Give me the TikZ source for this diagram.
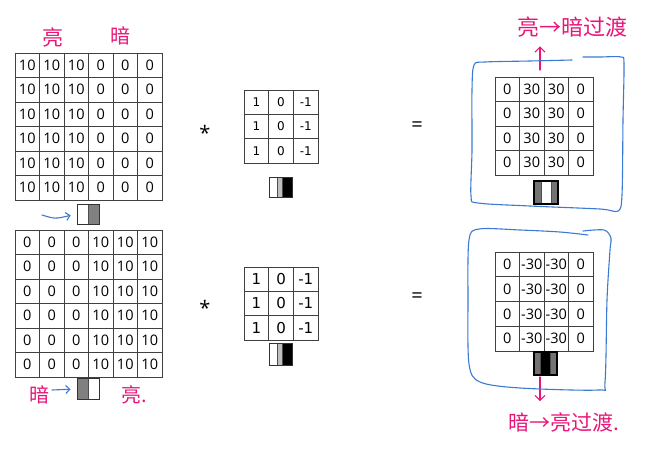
\documentclass[tikz,border=0pt]{standalone}
\usepackage{fontspec}
\setmainfont{Open Sans}
\newfontfamily\kfont{DejaVu Sans}
\newfontfamily\cjk{Noto Sans CJK SC}
\usetikzlibrary{arrows.meta,positioning,calc}
\definecolor{penblue}{RGB}{58,122,210}
\definecolor{penpink}{RGB}{232,22,120}

\begin{document}
\begin{tikzpicture}[x=1pt,y=-1pt,
    cell/.style={draw=black!75, line width=0.8pt, minimum width=24.5pt, minimum height=24.5pt, inner sep=0pt, font=\fontsize{14.5}{14.5}\selectfont},
    kcell/.style={cell, minimum width=24.7pt, minimum height=24.3pt},
    icon/.style={draw=black!80, line width=1pt, inner sep=0pt, fill=white},
    ricon/.style={draw=black, line width=1.6pt, inner sep=0pt, fill=white},
    stripes/.style n args={5}{path picture={
        \path (path picture bounding box.north west) coordinate (pw) (path picture bounding box.south east) coordinate (pe);
        \fill[#1] (pw) rectangle ($(pw|-pe)!#4!(pe)$);
        \fill[#2] ($(pw)!#4!(pw-|pe)$) rectangle ($(pw|-pe)!#5!(pe)$);
        \fill[#3] ($(pw)!#5!(pw-|pe)$) rectangle (pe);
        \draw[black!70, line width=0.8pt] ($(pw)!#4!(pw-|pe)$) -- ($(pw|-pe)!#4!(pe)$) ($(pw)!#5!(pw-|pe)$) -- ($(pw|-pe)!#5!(pe)$);}},
    hand/.style={text=penpink, font=\cjk\fontsize{20}{20}\selectfont, inner sep=0pt},
    pen/.style={penblue, line width=1.1pt, line cap=round, line join=round},
    ink/.style={penpink, line width=1.1pt, line cap=round, -{Straight Barb[length=5pt,width=10pt]}},
    op/.style={font=\fontsize{20}{20}\selectfont, inner sep=0pt}
]
    \useasboundingbox (0,0) rectangle (657,458);

    % input images
    \foreach \r in {0,...,5}
        \foreach \c/\v in {0/10,1/10,2/10,3/0,4/0,5/0}
            \node[cell] (a-\r-\c) at (27.25+24.5*\c, 65.25+24.5*\r) {\v};
    \foreach \r in {0,...,5}
        \foreach \c/\v in {0/0,1/0,2/0,3/10,4/10,5/10}
            \node[cell] (b-\r-\c) at (27.25+24.5*\c, 242.25+24.5*\r) {\v};

    % kernels
    \foreach \r in {0,1,2}
        \foreach \c/\v in {0/1,1/0,2/-1}
            \node[kcell, font=\kfont\fontsize{12}{12}\selectfont] (ka-\r-\c) at (256.35+24.7*\c, 102.15+24.3*\r) {\v};
    \foreach \r in {0,1,2}
        \foreach \c/\v in {0/1,1/0,2/-1}
            \node[kcell, font=\kfont\fontsize{15}{15}\selectfont] (kb-\r-\c) at (256.35+24.7*\c, 279.15+24.3*\r) {\v};

    % results
    \foreach \r in {0,...,3}
        \foreach \c/\v in {0/0,1/30,2/30,3/0}
            \node[cell] (ra-\r-\c) at (507.25+24.5*\c, 89.25+24.5*\r) {\v};
    \foreach \r in {0,...,3}
        \foreach \c/\v in {0/0,1/-30,2/-30,3/0}
            \node[cell, minimum height=24.75pt] (rb-\r-\c) at (507.25+24.5*\c, 264.4+24.75*\r) {\v};

    % operators
    \node[op] (op-a) at (205,133) {*};
    \node[op] (eq-a) at (417,127) {=};
    \node[op] (op-b) at (205,308) {*};
    \node[op] (eq-b) at (417,298) {=};

    % edge icons
    \node[icon, minimum width=22pt, minimum height=20pt, stripes={white}{black!50}{black!50}{0.5}{1}] (ic-a) at (88,214) {};
    \node[icon, minimum width=22pt, minimum height=21pt, stripes={black!50}{white}{white}{0.5}{1}] (ic-b) at (88,389) {};
    \node[icon, minimum width=23pt, minimum height=20pt, stripes={white}{black!25}{black}{0.35}{0.6}] (ic-ka) at (280.5,187) {};
    \node[icon, minimum width=23pt, minimum height=22pt, stripes={white}{black!25}{black}{0.35}{0.6}] (ic-kb) at (280.5,354) {};
    \node[ricon, minimum width=24pt, minimum height=23pt, stripes={black!55}{white}{black!55}{0.29}{0.71}] (ic-ra) at (546,192.5) {};
    \node[ricon, minimum width=23pt, minimum height=23pt, stripes={black!55}{black}{black!55}{0.29}{0.71}] (ic-rb) at (545.5,363.5) {};

    % handwritten notes
    \node[hand, font=\cjk\fontsize{21}{21}\selectfont] (bright-a) at (53,37) {亮};
    \node[hand] (dark-a) at (120,36) {暗};
    \node[hand] (dark-b) at (39,395) {暗};
    \node[hand, anchor=west] (bright-b) at (121,395) {亮.};
    \node[hand, font=\cjk\fontsize{22}{22}\selectfont] (title-a) at (572,27) {亮→暗过渡};
    \node[hand, font=\cjk\fontsize{21}{21}\selectfont, anchor=west] (title-b) at (508,422) {暗→亮过渡.};

    \coordinate (pa) at (42,215);
    \coordinate (pb) at (52,390);
    \draw[pen, -{Straight Barb[length=4pt,width=8pt]}, shorten >=6pt] (pa) .. controls (55,219) .. (ic-a.west);
    \draw[pen, -{Straight Barb[length=4pt,width=8pt]}, shorten >=6pt] (pb) -- (ic-b.west);

    \coordinate (up-a) at (540,70);
    \coordinate (dn-b) at (540,377);
    \draw[ink, shorten >=9pt] (up-a) -- (up-a |- title-a.south);
    \draw[ink, shorten >=11pt] (dn-b) -- (dn-b |- title-b.north);

    % blue loops round the results
    \draw[pen] plot[smooth, tension=0.5] coordinates {(572,60) (530,61) (485,62) (474,65) (472,90) (472,150) (471,196) (478,203) (530,206) (600,209) (618,211) (622,195) (623,120) (624,64) (621,57) (600,57) (583,57)};
    \draw[pen] plot[smooth, tension=0.5] coordinates {(588,235) (560,232) (520,230) (479,229) (469,240) (468,300) (469,364) (480,382) (520,388) (598,390) (605,382) (607,300) (610,250) (611,238) (604,230) (583,231)};
\end{tikzpicture}
\end{document}
